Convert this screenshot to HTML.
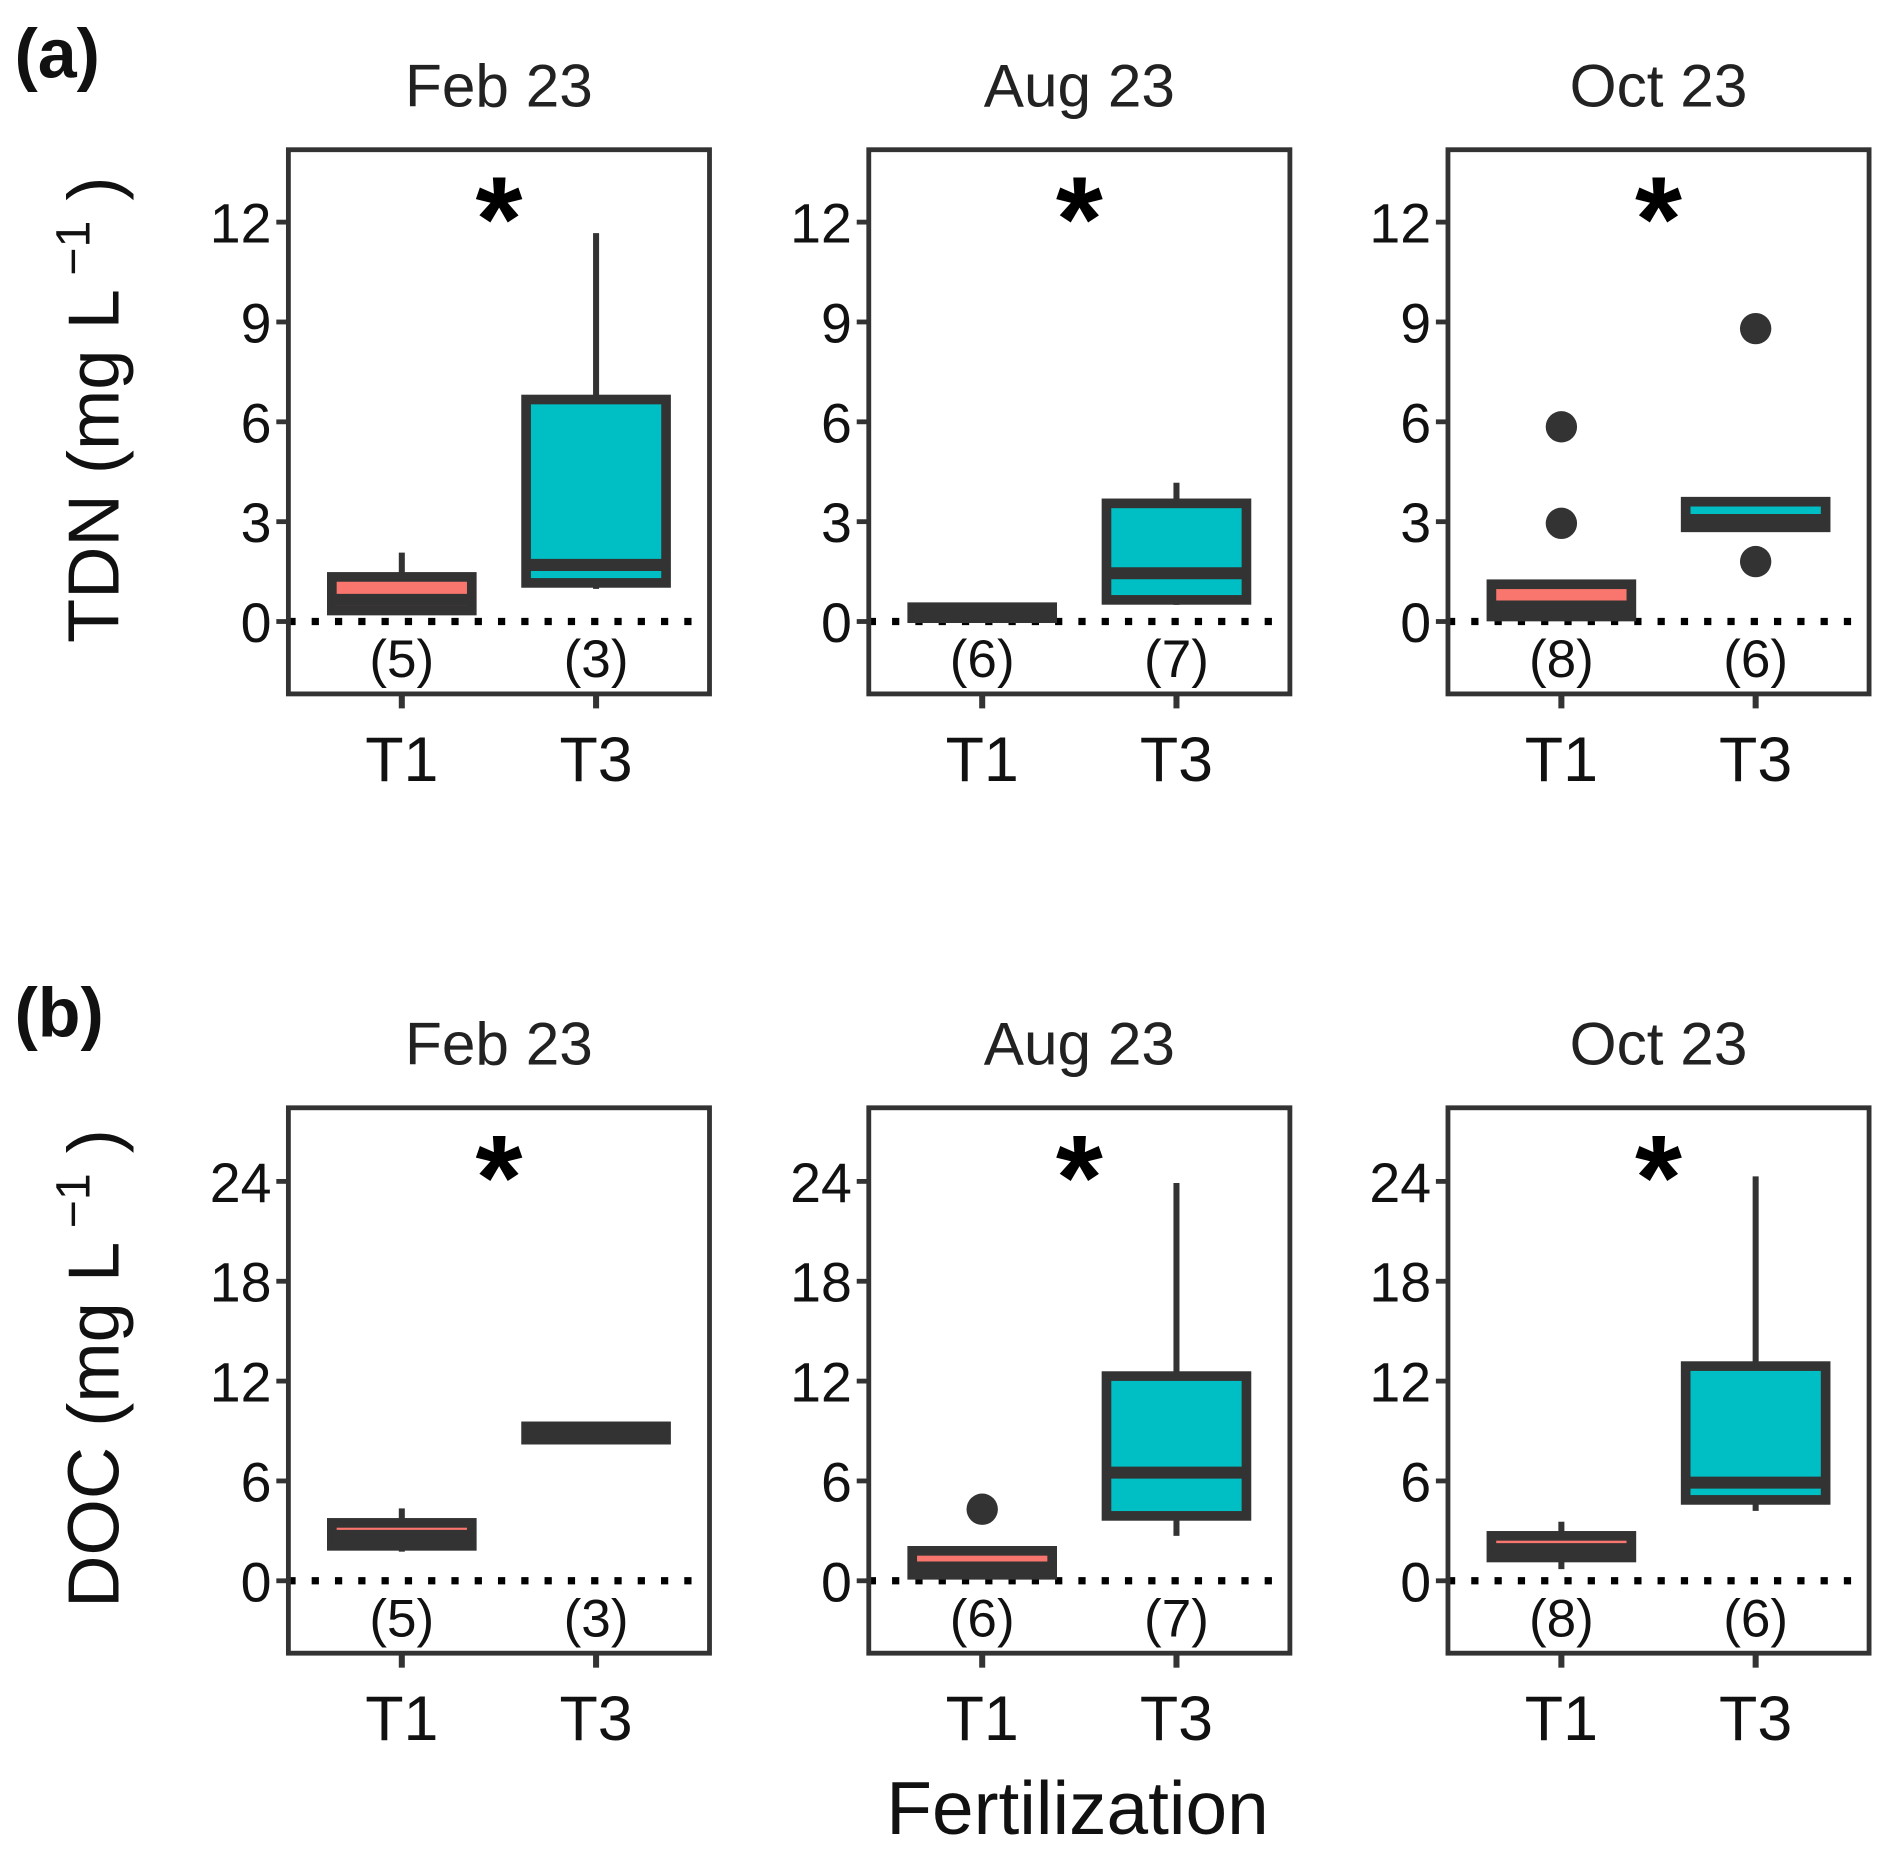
<!DOCTYPE html>
<html><head><meta charset="utf-8"><style>
html,body{margin:0;padding:0;background:#fff;}
svg{display:block;font-family:"Liberation Sans",Arial,sans-serif;}
</style></head><body>
<svg id="chart" width="1892" height="1856" viewBox="0 0 1568 1538" xmlns="http://www.w3.org/2000/svg"></svg>
<script>
const dates = ["Feb 23","Aug 23","Oct 23"];
const groups = ["T1","T3"];
const counts = [[5,3],[6,7],[8,6]];
const colors = ["#F8766D","#00BFC4"];
// TDN stats per date per group: [lowerWhisker, q1, median, q3, upperWhisker]
const tdnStats = [
  [[0.3,0.33,0.65,1.34,2.07],[0.98,1.16,1.7,6.67,11.67]],
  [[0.1,0.1,0.2,0.43,0.43],[0.5,0.65,1.45,3.55,4.17]],
  [[0.15,0.15,0.45,1.12,1.12],[2.83,2.83,3.05,3.6,3.6]]
];
const tdnOutliers = [[[],[]],[[],[]],[[5.85,2.95],[8.8,1.8]]];
const tdnTicks = [0,3,6,9,12];
// DOC stats
const docStats = [
  [[1.75,2.1,2.7,3.48,4.35],[8.3,8.48,8.8,9.28,9.3]],
  [[0.36,0.36,0.8,1.8,1.8],[2.7,3.9,6.5,12.3,23.9]],
  [[0.7,1.4,1.9,2.7,3.55],[4.2,4.86,5.9,12.9,24.3]]
];
const docOutliers = [[[],[]],[[4.3],[]],[[],[]]];
const docTicks = [0,6,12,18,24];

const NS="http://www.w3.org/2000/svg";
const svg=document.getElementById('chart');
function mk(tag,attrs,parent,text){const e=document.createElementNS(NS,tag);for(const k in attrs)e.setAttribute(k,attrs[k]);if(text!==undefined)e.textContent=text;(parent||svg).appendChild(e);return e;}

const panelX=[239,720,1200], panelW=349;
const rows=[
 {top:124,bottom:575,zeroY:515,unit:(515-184)/12,stats:tdnStats,out:tdnOutliers,ticks:tdnTicks,label:"(a)",labelY:45,title:"TDN",name:"tdn"},
 {top:918,bottom:1370,zeroY:1310,unit:(1310-979)/24,stats:docStats,out:docOutliers,ticks:docTicks,label:"(b)",labelY:840,title:"DOC",name:"doc"}
];
const dark="#333333";
rows.forEach((r,ri)=>{
  const y=v=>r.zeroY-v*r.unit;
  let t=mk('text',{x:12,y:r.labelY+19,'font-size':58,'font-weight':'bold',fill:'#111'},svg,r.label);
  
  
  const cy=(r.top+r.bottom)/2 - 10;
  let yt=mk('text',{x:0,y:0,'font-size':60,fill:'#111','text-anchor':'middle',transform:`translate(98,${cy}) rotate(-90)`},svg);
  
  
  mk('tspan',{},yt,r.title+" (mg L");
  mk('tspan',{dy:-24,'font-size':40},yt," \u22121");
  mk('tspan',{dy:24},yt," )");
  dates.forEach((d,di)=>{
    const px=panelX[di];
    const g=mk('g',{});
    
    
    let ti=mk('text',{x:px+panelW/2,y:r.top-36,'font-size':50,fill:'#222','text-anchor':'middle'},g,d);
    
    
    r.ticks.forEach(tv=>{
      mk('line',{x1:px-10,x2:px,y1:y(tv),y2:y(tv),stroke:dark,'stroke-width':4},g);
      let tl=mk('text',{x:px-14,y:y(tv)+17,'font-size':46,fill:'#111','text-anchor':'end'},g,String(tv));
      
      
    });
    mk('line',{x1:px,x2:px+panelW,y1:r.zeroY,y2:r.zeroY,stroke:'#000','stroke-width':6,'stroke-dasharray':'6 13.3'},g);
    groups.forEach((gr,gi)=>{
      const cx=px+94+gi*161;
      const s=r.stats[di][gi];
      const bg=mk('g',{},g);
      
      
      mk('line',{x1:cx,x2:cx,y1:y(s[4]),y2:y(s[3]),stroke:dark,'stroke-width':5},bg);
      mk('line',{x1:cx,x2:cx,y1:y(s[1]),y2:y(s[0]),stroke:dark,'stroke-width':5},bg);
      const bh=Math.max(y(s[1])-y(s[3]),1);
      mk('rect',{x:cx-58,y:y(s[3]),width:116,height:bh,fill:colors[gi],stroke:dark,'stroke-width':8},bg);
      mk('line',{x1:cx-58,x2:cx+58,y1:y(s[2]),y2:y(s[2]),stroke:dark,'stroke-width':10},bg);
      r.out[di][gi].forEach(o=>{
        let c=mk('circle',{cx:cx,cy:y(o),r:13,fill:dark},bg);
        
        
      });
      let n=mk('text',{x:cx,y:r.zeroY+46,'font-size':44,fill:'#111','text-anchor':'middle'},g,'('+counts[di][gi]+')');
      
      
      mk('line',{x1:cx,x2:cx,y1:r.bottom,y2:r.bottom+12,stroke:dark,'stroke-width':5},g);
      let xl=mk('text',{x:cx,y:r.bottom+72,'font-size':52,fill:'#111','text-anchor':'middle'},g,gr);
      
      
    });
    mk('rect',{x:px,y:r.top,width:panelW,height:r.bottom-r.top,fill:'none',stroke:dark,'stroke-width':4},g);
    let st=mk('text',{x:px+panelW/2,y:r.top+92,'font-size':100,'font-weight':'bold',fill:'#000','text-anchor':'middle'},g,'*');
    
    
  });
});
let xt=mk('text',{x:893,y:1520,'font-size':62,fill:'#111','text-anchor':'middle'},svg,'Fertilization');


</script>
</body></html>
